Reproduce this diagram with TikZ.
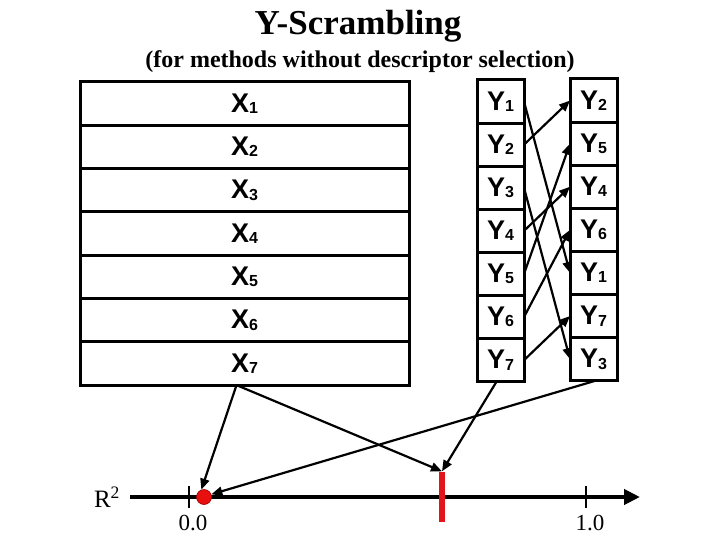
\documentclass[tikz,border=0pt]{standalone}
\usepackage{fontspec}
\setmainfont{Liberation Serif}
\newfontfamily\arialfont{Liberation Sans}
\usetikzlibrary{arrows.meta,positioning,calc}
\definecolor{barred}{HTML}{E3141B}
\definecolor{dotred}{HTML}{E80F0F}
\newcommand{\cellsub}[1]{\raisebox{-0.1ex}{\fontsize{16}{16}\selectfont #1}}
\tikzset{
  cell/.style={rectangle,draw=black,line width=3pt,inner sep=0pt,outer sep=0pt,
    font=\arialfont\fontsize{27}{27}\bfseries\selectfont},
  xcell/.style={cell,minimum width=329pt,minimum height=43.3pt},
  ycell/.style={cell,minimum width=47pt,minimum height=43.1pt},
  myarrow/.style={-{Triangle[length=11pt,width=9pt]},line width=2.2pt},
  axisline/.style={-{Triangle[length=16pt,width=15pt]},line width=4.5pt},
  ticklabel/.style={font=\fontsize{23}{23}\selectfont},
}
\begin{document}
\begin{tikzpicture}[x=1pt,y=-1pt]
  \useasboundingbox (0,0) rectangle (720,540);
  \node[font=\fontsize{35}{35}\bfseries\selectfont] (title) at (358,26) {Y-Scrambling};
  \node[font=\fontsize{24}{24}\bfseries\selectfont] (subtitle) at (360,62) {(for methods without descriptor selection)};
  \foreach \i in {1,...,7} {
    \node[xcell] (x\i) at (244.5,82+43.3*\i-21.65) {X\cellsub{\i}};
    \node[ycell] (y\i) at (500.5,80+43.1*\i-21.55) {Y\cellsub{\i}};
  }
  \foreach \lbl [count=\i] in {2,5,4,6,1,7,3}
    \node[ycell] (s\lbl) at (593.5,79+43.1*\i-21.55) {Y\cellsub{\lbl}};
  \foreach \i in {1,...,7}
    \draw[myarrow] (y\i.east) -- (s\i.west);
  \node[font=\fontsize{25}{25}\selectfont] (r2) at (107,497) {R\textsuperscript{2}};
  \draw[axisline] (130,497) -- (640,497);
  \draw[line width=2.2pt] (189,486) -- (189,508) (586,486) -- (586,508);
  \node[ticklabel] (zero) at (193,523) {0.0};
  \node[ticklabel] (one) at (590,523) {1.0};
  \node[rectangle,fill=barred,minimum width=5.5pt,minimum height=50pt,inner sep=0pt] (bar) at (442,496.5) {};
  \node[circle,fill=dotred,draw=red!60!black,line width=0.6pt,minimum size=15pt,inner sep=0pt] (dot) at (204,497) {};
  \draw[myarrow] ([xshift=-8pt]x7.south) -- (dot.110);
  \draw[myarrow] ([xshift=-8pt]x7.south) -- (bar.north);
  \draw[myarrow] ([xshift=-4pt]y7.south) -- (bar.north);
  \draw[myarrow] ([xshift=2pt]s3.south) -- (dot.20);
\end{tikzpicture}
\end{document}
